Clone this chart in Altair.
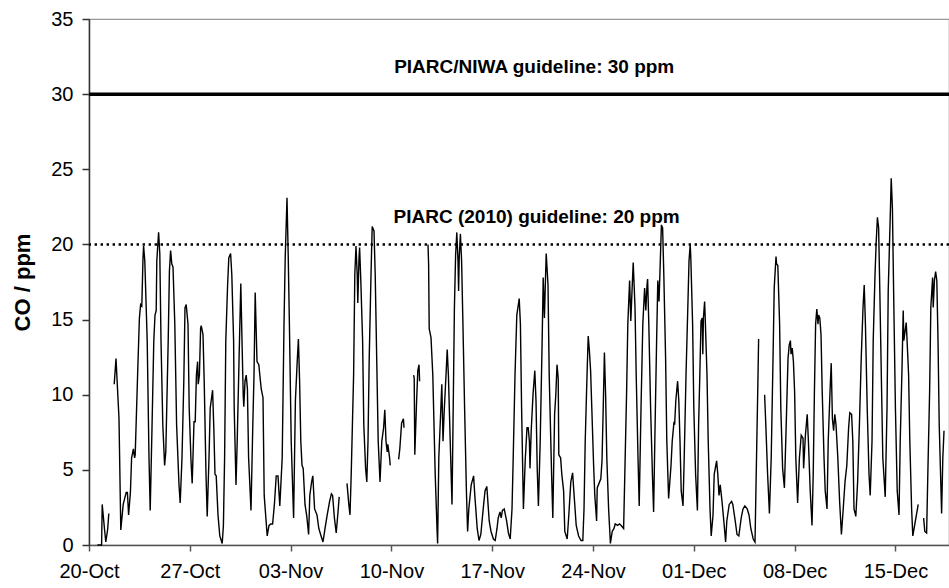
import altair as alt
import pandas as pd

# Hours since 20-Oct 00:00 and CO readings (ppm); None marks a gap in the record
hours = [
    14, 21, 22, 26, 28, 31, 33, None,
    42, 45, 50, 53, 57, 62, 64, 66, 69, 71, 74, 76, 77, 81, 84, 86, 88, 90, 91, 93, 97, 100,
    102, 105, 108, 110, 112, 113, 116, 118, 120, 123, 126, 128, 132, 134, 136, 138, 140, 143, 146, 150,
    152, 155, 158, 160, 162, 165, 167, 170, 172, 175, 177, 179, 181, 182, 184, 186, 187, 190, 192, 195,
    197, 200, 202, 206, 208, 210, 212, 215, 218, 222, 224, 226, 228, 231, 233, 236, 238, 241,
    242, 245, 247, 250, 253, 255, 257, 258, 260, 262, 264, 266, 270, 273, 275, 277, 280, 283, 287, 290,
    292, 297, 300, 303, 306, 309, 312, 315, 318, 322, 325, 327, 330, 332, 334, 337, 341, 344, 347, 349,
    351, 353, 355, 357, 360, 363, 366, 368, 371, 373, 376, 380, 383, 386, 390, 393, 397, 401, 404, 406,
    409, 412, 415, 417, None,
    430, 433, 435, 437, 441, 443, 445, 447, 448, 450, 451, 453, 456, 458, 461, 463, 465, 467, 470, 472,
    475, 477, 480, 482, 485, 488, 491, 493, 495, 497, 498, 501, 502, None,
    516, 518, 521, 524, 525, None,
    541, 542, 543, 546, 548, 550, 551, None,
    565, 566, 567, 570, 573, 577, 580, 581, 583, 586, 588, 590, 592, 595, 597, 599, 602, 605, 607, 609,
    611, 613, 615, 616, 617, 619, 621, 623, 626, 629, 631, 633, 637, 641, 643, 647, 650, 653, 657, 660,
    663, 667, 670, 674, 677, 680, 682, 685, 687, 689, 692, 696, 699, 702, 705, 707, 710, 713, 717, 719,
    721, 724,
    727, 730, 732, 734, 735, 737, 740, 743, 745, 747, 749, 752, 755, 757, 759, 761, 762, 765, 767, 771,
    773, 776, 778, 780, 782, 783, 786, 788, 791, 793, 797, 800, 803, 806, 808, 812, 816, 820, 823, 825,
    827, 830, 832, 834, 836, 838, 841, 843, 846, 847, 850, 853, 855, 857, 859, 861, 863, 866, 869, 872,
    875, 877, 881, 884, 887, 891, 893, 896, 898, 901, 903, 905, 907, 910, 912, 915, 917, 920, 923, 926,
    928, 930, 931, 933, 936, 939, 941, 943, 946, 948, 950, 952, 954, 956, 958, 961, 963, 966,
    970, 972, 975, 976, 978, 981, 983, 985, 987, 990, 992, 995, 998, 1000, 1002, 1003, 1006, 1008, 1011, 1014,
    1016, 1018, 1020, 1022, 1023, 1024, 1026, 1027, 1030, 1032, 1035, 1037, 1040, 1042, 1046, 1048, 1050, 1052, 1055, 1058,
    1061, 1063, 1067, 1071, 1073, 1077, 1080, 1083, 1087, 1090, 1093, 1097, 1100, 1103, 1107, 1110, 1112, 1115, 1116, None,
    1126, 1128, 1131, 1134, 1137, 1140, 1142, 1145, 1146, 1148, 1151, 1153, 1156, 1159, 1162, 1165, 1167, 1169, 1170, 1172,
    1174, 1176, 1178, 1181, 1184, 1187, 1190, 1191, 1194, 1197, 1199, 1202, 1205,
    1207, 1209, 1211, 1213, 1215, 1216, 1218, 1220, 1222, 1225, 1227, 1230, 1232, 1235, 1237, 1239, 1241, 1243, 1245, 1248,
    1251, 1254, 1257, 1260, 1263, 1266, 1268, 1271, 1273, 1275, 1278, 1281, 1284, 1287, 1290, 1292, 1294, 1297, 1300, 1302,
    1305, 1307, 1310, 1312, 1314, 1316, 1318, 1321, 1323, 1327, 1330, 1332, 1335, 1337, 1339, 1341, 1344, 1347, 1350, 1352,
    1355, 1357, 1358, 1360, 1362, 1363, 1366, 1368, 1371, 1373, 1376, 1379, 1382, None,
    1391, 1393, 1396, 1398, 1401, 1403, 1406, 1407, 1409, 1411, 1413, 1415, 1417, 1420, 1421, 1423, 1425,
]

co_ppm = [
    0, 0, 2.7, 1.0, 0.2, 1.0, 2.1, None,
    10.7, 12.4, 8.4, 1.0, 2.7, 3.5, 3.5, 2.0, 3.5, 5.8, 6.4, 5.8, 6.0, 11.3, 15.1, 16.0, 15.9, 19.1, 19.9, 18.9, 13.6, 5.8,
    2.3, 7.8, 13.6, 15.3, 15.6, 18.9, 20.8, 19.4, 13.6, 8.0, 5.3, 6.2, 13.6, 18.2, 19.6, 18.7, 18.5, 14.7, 8.0, 4.0,
    2.8, 5.8, 10.9, 15.8, 16.0, 14.7, 9.1, 5.6, 4.1, 8.2, 8.2, 11.3, 12.2, 10.7, 11.3, 14.4, 14.6, 14.0, 10.9, 4.7,
    1.9, 5.8, 9.1, 10.3, 7.8, 4.7, 4.6, 2.0, 0.6, 0.1, 1.3, 5.8, 13.6, 17.3, 19.1, 19.4, 18.0, 13.6,
    9.1, 4.0, 6.9, 12.2, 17.4, 13.6, 10.0, 9.2, 10.9, 11.3, 10.4, 5.8, 2.3, 8.0, 11.3, 16.8, 12.2, 12.0, 10.4, 9.8,
    3.3, 0.6, 1.3, 1.4, 1.4, 2.7, 4.6, 4.6, 2.6, 5.8, 14.7, 19.1, 23.1, 19.3, 14.7, 6.9, 1.8, 9.6, 12.2, 13.7,
    10.9, 6.9, 5.3, 5.1, 2.7, 1.9, 0.7, 3.3, 4.2, 4.6, 2.4, 2.0, 1.1, 0.7, 0.2, 1.0, 2.0, 2.9, 3.4, 3.3,
    1.8, 0.8, 2.2, 3.2, None,
    4.1, 2.7, 2.0, 4.7, 11.3, 18.0, 19.9, 18.0, 16.1, 19.1, 19.8, 17.6, 13.6, 8.0, 5.1, 4.2, 6.9, 12.4, 18.0, 21.2,
    20.9, 18.0, 11.3, 6.9, 4.2, 6.9, 7.8, 9.0, 6.9, 6.2, 6.7, 5.8, 5.3, None,
    5.7, 6.4, 8.1, 8.4, 7.8, None,
    11.3, 11.1, 6.0, 9.6, 11.6, 12.0, 10.9, None,
    20.0, 18.7, 14.4, 13.8, 11.3, 4.7, 1.1, 0.1, 5.8, 8.7, 10.7, 6.9, 8.9, 11.3, 13.0, 11.3, 6.9, 2.7, 9.1, 15.8,
    19.3, 20.8, 18.9, 16.9, 19.1, 20.7, 18.9, 15.1, 9.1, 3.6, 0.9, 2.4, 4.0, 4.6, 3.3, 1.1, 0.3, 0.7, 2.4, 3.6,
    3.9, 1.6, 0.9, 0.4, 0.3, 1.1, 1.8, 2.2, 1.8, 2.3, 2.4, 1.6, 0.8, 0.4, 2.4, 5.8, 11.3, 15.3, 16.4, 14.7,
    9.1, 2.4,
    5.6, 7.8, 7.8, 6.9, 5.1, 7.6, 10.0, 11.6, 9.6, 5.1, 2.6, 6.9, 13.1, 17.8, 15.1, 18.0, 19.4, 17.3, 11.3, 4.7,
    1.8, 8.7, 10.0, 12.0, 11.1, 6.0, 5.8, 4.7, 3.6, 0.9, 0.4, 2.2, 4.2, 4.8, 3.6, 1.3, 0.6, 0.3, 0.3, 2.4,
    6.9, 11.3, 13.9, 12.9, 11.6, 9.1, 5.3, 3.3, 1.6, 3.8, 4.1, 4.4, 5.6, 9.1, 12.8, 10.0, 5.8, 2.4, 0.1, 0.9,
    1.1, 1.4, 1.3, 1.4, 1.3, 1.1, 4.7, 10.2, 14.7, 17.6, 14.9, 16.9, 18.8, 15.8, 11.3, 5.8, 2.6, 9.1, 14.7, 17.1,
    15.6, 17.3, 17.7, 14.7, 9.1, 4.7, 2.2, 6.9, 13.6, 17.6, 16.2, 18.7, 21.3, 21.1, 18.0, 12.4, 6.9, 3.1,
    5.3, 6.9, 8.2, 8.0, 9.6, 10.9, 9.6, 6.9, 3.6, 2.6, 5.8, 11.3, 15.8, 18.9, 20.0, 19.1, 14.7, 9.1, 4.7, 2.3,
    8.0, 11.3, 14.9, 15.1, 12.7, 15.1, 16.2, 15.1, 11.3, 6.9, 2.4, 0.6, 2.0, 4.7, 5.6, 4.7, 3.3, 4.0, 2.9, 1.6,
    0.2, 1.6, 2.7, 2.9, 2.7, 1.6, 0.7, 0.6, 1.8, 2.4, 2.6, 2.4, 2.0, 1.1, 0.4, 0.2, 4.7, 11.3, 13.7, None,
    10.0, 8.0, 4.7, 2.1, 5.8, 12.4, 17.1, 19.2, 18.7, 18.6, 14.7, 9.1, 5.1, 3.8, 8.0, 12.4, 13.3, 13.6, 12.7, 13.1,
    12.2, 10.2, 5.8, 2.8, 5.8, 7.3, 7.1, 5.1, 7.3, 8.7, 6.9, 3.6, 1.3,
    4.7, 10.2, 14.7, 15.7, 14.7, 15.3, 15.1, 14.0, 10.2, 5.8, 3.6, 2.4, 6.9, 10.2, 12.1, 8.4, 7.6, 8.7, 8.0, 5.8,
    2.9, 0.7, 2.4, 4.2, 5.3, 7.8, 8.8, 8.7, 6.9, 2.4, 1.9, 4.2, 8.0, 12.4, 15.8, 17.3, 14.7, 9.1, 4.7, 3.3,
    6.9, 13.6, 18.0, 20.2, 21.8, 21.1, 16.9, 10.2, 5.8, 3.2, 9.1, 16.9, 21.3, 24.4, 22.4, 16.9, 9.1, 3.6, 2.0, 6.9,
    11.8, 15.6, 13.6, 14.2, 14.8, 14.0, 11.3, 6.9, 2.4, 0.6, 1.3, 2.0, 2.7, None,
    1.8, 0.9, 0.8, 4.7, 10.2, 15.8, 17.8, 15.8, 17.6, 18.2, 17.6, 13.6, 8.0, 3.6, 2.1, 5.8, 7.6,
]

assert len(hours) == len(co_ppm), (len(hours), len(co_ppm))

tick_hours = [0, 168, 336, 504, 672, 840, 1008, 1176, 1344]
tick_labels = ["20-Oct", "27-Oct", "03-Nov", "10-Nov", "17-Nov", "24-Nov", "01-Dec", "08-Dec", "15-Dec"]
y_ticks = [0, 5, 10, 15, 20, 25, 30, 35]

guide_levels = [30, 20]
note_hours = [742, 746]
note_levels = [31.8, 21.8]
note_texts = ["PIARC/NIWA guideline: 30 ppm", "PIARC (2010) guideline: 20 ppm"]

X_MAX = 1433.3
FONT = "Liberation Sans"

df = pd.DataFrame({"hour": hours, "co": co_ppm})
df["seg"] = df["co"].isna().cumsum()
df = df.dropna().reset_index(drop=True)

x_scale = alt.Scale(domain=[0, X_MAX], nice=False, zero=False)
y_scale = alt.Scale(domain=[0, 35], nice=False)

label_expr = "[" + ",".join("'%s'" % t for t in tick_labels) + "][round(datum.value / 168)]"

x_axis = alt.Axis(values=tick_hours, labelExpr=label_expr, title=None, grid=False,
                  labelFlush=False, labelOverlap=False, labelAngle=0,
                  tickSize=6, labelPadding=10, labelFontSize=20, labelFont=FONT,
                  labelColor="black", domainColor="#555", tickColor="#555",
                  domainWidth=1.5, tickWidth=1.5)
y_axis = alt.Axis(values=y_ticks, title="CO / ppm", grid=False,
                  tickSize=7, labelPadding=9, labelFontSize=20, labelFont=FONT,
                  labelColor="black", domainColor="#333", tickColor="#333",
                  domainWidth=1.5, tickWidth=1.5,
                  titleFont=FONT, titleFontSize=22, titleFontWeight="bold", titleColor="black",
                  titleAngle=270, titleX=-67, titleY=263, titleAlign="center", titleBaseline="middle")

series = alt.Chart(df).mark_line(color="black", strokeWidth=1.4).encode(
    x=alt.X("hour:Q", scale=x_scale, axis=x_axis),
    y=alt.Y("co:Q", scale=y_scale, axis=y_axis),
    detail="seg:N",
)

solid_guide = alt.Chart(pd.DataFrame({"co": [guide_levels[0]]})).mark_rule(
    color="black", strokeWidth=3.5
).encode(y=alt.Y("co:Q", scale=y_scale))

dotted_guide = alt.Chart(pd.DataFrame({"co": [guide_levels[1]]})).mark_rule(
    color="black", strokeWidth=2.4, strokeDash=[2.4, 3.6]
).encode(y=alt.Y("co:Q", scale=y_scale))

notes = alt.Chart(pd.DataFrame({"hour": note_hours, "co": note_levels, "label": note_texts})).mark_text(
    font=FONT, fontSize=19, fontWeight="bold", color="black", align="center", baseline="middle"
).encode(
    x=alt.X("hour:Q", scale=x_scale),
    y=alt.Y("co:Q", scale=y_scale),
    text="label:N",
)

chart = alt.layer(series, solid_guide, dotted_guide, notes).properties(
    width=860, height=526,
    padding={"left": 89, "top": 19, "right": 0, "bottom": 43},
    autosize=alt.AutoSizeParams(type="none"),
    background="white",
).configure_view(stroke="#999", strokeWidth=1.2)

chart.save("out.html", embed_options={"renderer": "svg", "actions": False})
